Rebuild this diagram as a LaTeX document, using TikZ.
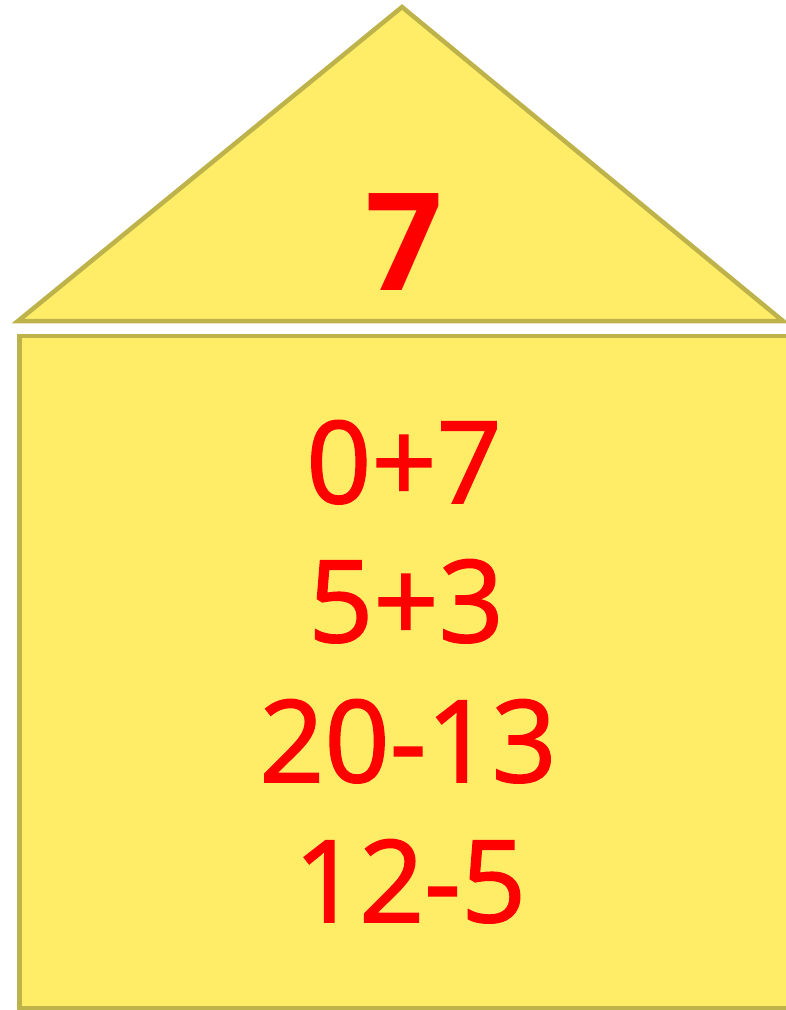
\documentclass[tikz,border=0pt]{standalone}
\usepackage{fontspec}
\setmainfont{Open Sans}
\newfontfamily\sumfont[FakeBold=1.5]{Open Sans}
\usepackage{xcolor}
\usetikzlibrary{positioning}
\definecolor{wallfill}{RGB}{255,237,104}
\definecolor{wallline}{RGB}{190,178,74}
\definecolor{sumred}{RGB}{255,0,0}

\begin{document}
\begin{tikzpicture}[x=1pt, y=-1pt,
  part/.style={draw=wallline, fill=wallfill, line width=4.5pt, line join=miter},
  sum/.style={text=sumred, font=\sumfont\fontsize{114}{114}\selectfont, inner sep=0pt, anchor=base},
  total/.style={text=sumred, font=\fontsize{136}{136}\selectfont\bfseries, inner sep=0pt, anchor=base}]
\useasboundingbox (0,0) rectangle (785,1010);
% roof and walls
\draw[part] (18,321) -- (402,7) -- (783,321) -- cycle;
\draw[part] (19.5,1008) -- (19.5,336) -- (800,336) -- (800,1008) -- cycle;
\coordinate (roofc) at (404,290);
\node[total] (seven) at (roofc) {7};
% sums
\node[sum] (s1) at (404,503) {0+7};
\node[sum] (s2) at (406,642) {5+3};
\node[sum] (s3) at (408,782) {20-13};
\node[sum] (s4) at (410,922) {12-5};
\end{tikzpicture}
\end{document}
